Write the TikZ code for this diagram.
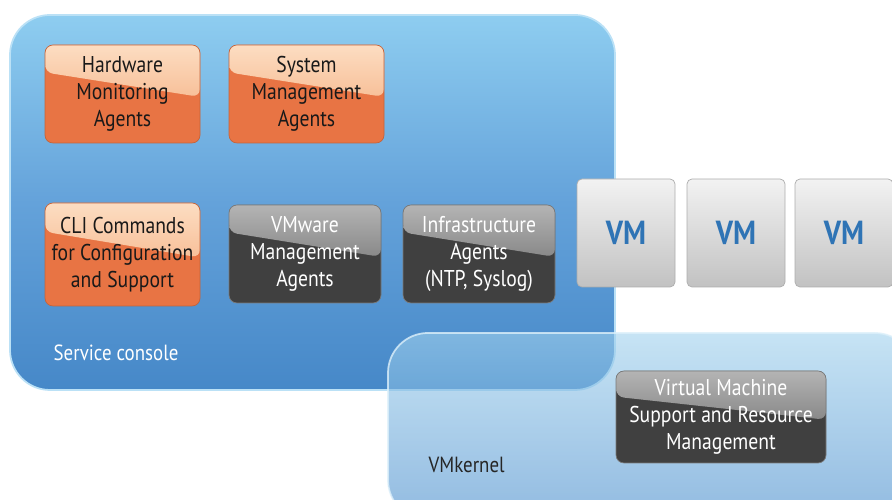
\documentclass[tikz,border=0pt]{standalone}
\usepackage{fontspec}
\setmainfont{PT Sans}[FakeStretch=0.86]
\usetikzlibrary{calc}

\definecolor{consoletop}{HTML}{8ECDF0}
\definecolor{consolemid}{HTML}{64A2DA}
\definecolor{consolebot}{HTML}{4688C8}
\definecolor{orangebase}{HTML}{E87444}
\definecolor{orangeglosstop}{HTML}{FCDDC2}
\definecolor{orangeglossbot}{HTML}{F4A674}
\definecolor{darkbase}{HTML}{404040}
\definecolor{darkglosstop}{HTML}{B4B4B4}
\definecolor{darkglossbot}{HTML}{626262}
\definecolor{vmtext}{HTML}{2F74B5}

\tikzset{
  gloss/.style 2 args={path picture={
    \shade[top color=#1, bottom color=#2]
      (path picture bounding box.north west) -- (path picture bounding box.north east)
      -- ($(path picture bounding box.south east)!0.47!(path picture bounding box.north east)$)
      -- ($(path picture bounding box.south west)!0.72!(path picture bounding box.north west)$)
      -- cycle;}}
}

\begin{document}
\begin{tikzpicture}[font=\fontsize{13}{15.3}\selectfont]
    \tikzstyle{agent}=[rounded corners=0.16cm, minimum width=3.1cm, minimum height=1.96cm,
      align=center, inner sep=2pt];
    \tikzstyle{orangebox}=[agent, fill=orangebase, draw=orangebase!85!black, line width=0.4pt,
      gloss={orangeglosstop}{orangeglossbot}, text={black!90}];
    \tikzstyle{darkbox}=[agent, minimum width=3.04cm, fill=darkbase, draw=darkbase!70,
      gloss={darkglosstop}{darkglossbot}, text=white];
    \tikzstyle{vm}=[rounded corners=0.1cm, minimum width=1.96cm, minimum height=2.16cm,
      top color=black!5, bottom color=black!24, draw=black!32,
      text=vmtext, font=\fontsize{19}{20}\selectfont\bfseries];
    \tikzstyle{layer}=[anchor=base west, font=\fontsize{12.5}{14}\selectfont];
    \useasboundingbox (0,0) rectangle (17.84,10);
    \clip (0,0) rectangle (17.84,10);

    % service console
    \shade[rounded corners=0.8cm, top color=consoletop, bottom color=consolebot,
      middle color=consolemid] (0.2,2.2) rectangle (12.3,9.7);
    \draw[rounded corners=0.8cm, consoletop!60!white, line width=1pt]
      (0.2,2.2) rectangle (12.3,9.7);
    \node (console) [layer, text=white] at (0.95,2.78) {Service console};

    \node (hw) [orangebox] at (2.45,8.12) {Hardware\\Monitoring\\Agents};
    \node (sys) [orangebox] at (6.13,8.12) {System\\Management\\Agents};
    \node (cli) [orangebox, minimum height=2.06cm] at (2.45,4.91)
      {CLI Commands\\for Configuration\\and Support};
    \node (vmw) [darkbox] at (6.1,4.92) {VMware\\Management\\Agents};
    \node (infra) [darkbox] at (9.58,4.92) {Infrastructure\\Agents\\(NTP, Syslog)};

    % vmkernel
    \shade[rounded corners=0.8cm, fill opacity=0.6,
      top color={rgb,1:red,0.63;green,0.82;blue,0.93},
      bottom color={rgb,1:red,0.28;green,0.55;blue,0.80}]
      (7.76,-0.4) rectangle (18.3,3.34);
    \draw[rounded corners=0.8cm, white!70!consoletop, line width=1pt, opacity=0.8]
      (7.76,-0.4) rectangle (18.3,3.34);
    \node (kernel) [layer, text=black!85] at (8.45,0.55) {VMkernel};
    \node (vmsup) [darkbox, minimum width=4.2cm, minimum height=1.84cm] at (14.42,1.66)
      {Virtual Machine\\Support and Resource\\Management};

    % virtual machines
    \node (vm1) [vm] at (12.52,5.34) {VM};
    \node (vm2) [vm] at (14.72,5.34) {VM};
    \node (vm3) [vm] at (16.88,5.34) {VM};
\end{tikzpicture}
\end{document}
